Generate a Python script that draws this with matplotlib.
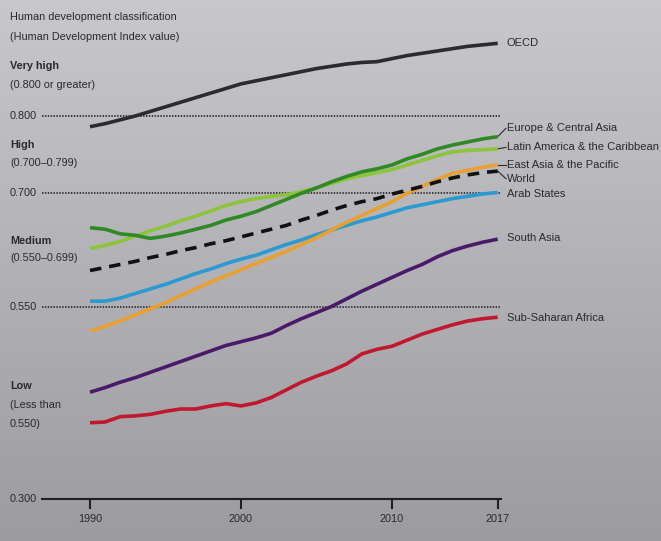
import numpy as np
import matplotlib.pyplot as plt
import matplotlib.transforms as mtransforms
from matplotlib import font_manager
from matplotlib.colors import LinearSegmentedColormap

years = np.arange(1990, 2018)

oecd = [0.786, 0.790, 0.795, 0.800, 0.806, 0.812, 0.818, 0.824, 0.830, 0.836,
        0.842, 0.846, 0.850, 0.854, 0.858, 0.862, 0.865, 0.868, 0.870, 0.871,
        0.875, 0.879, 0.882, 0.885, 0.888, 0.891, 0.893, 0.895]
eca = [0.654, 0.652, 0.646, 0.644, 0.640, 0.643, 0.647, 0.652, 0.657, 0.664,
       0.669, 0.675, 0.683, 0.691, 0.699, 0.706, 0.714, 0.721, 0.727, 0.731,
       0.736, 0.744, 0.750, 0.757, 0.762, 0.766, 0.770, 0.773]
lac = [0.627, 0.631, 0.636, 0.643, 0.650, 0.656, 0.663, 0.669, 0.676, 0.683,
       0.688, 0.692, 0.695, 0.697, 0.701, 0.706, 0.712, 0.718, 0.722, 0.726,
       0.730, 0.736, 0.742, 0.748, 0.753, 0.755, 0.756, 0.757]
eap = [0.519, 0.525, 0.532, 0.540, 0.548, 0.556, 0.565, 0.574, 0.583, 0.591,
       0.599, 0.607, 0.615, 0.623, 0.632, 0.641, 0.651, 0.661, 0.670, 0.679,
       0.688, 0.699, 0.708, 0.717, 0.725, 0.729, 0.733, 0.736]
world = [0.598, 0.602, 0.606, 0.610, 0.615, 0.619, 0.624, 0.628, 0.633, 0.637,
         0.642, 0.647, 0.652, 0.657, 0.664, 0.670, 0.677, 0.683, 0.688, 0.692,
         0.698, 0.703, 0.708, 0.714, 0.719, 0.723, 0.726, 0.728]
arab = [0.558, 0.558, 0.562, 0.568, 0.574, 0.580, 0.587, 0.594, 0.600, 0.607,
        0.613, 0.618, 0.625, 0.632, 0.638, 0.645, 0.651, 0.657, 0.663, 0.668,
        0.674, 0.680, 0.684, 0.688, 0.692, 0.695, 0.698, 0.700]
sasia = [0.439, 0.445, 0.452, 0.458, 0.465, 0.472, 0.479, 0.486, 0.493, 0.500,
         0.505, 0.510, 0.516, 0.526, 0.535, 0.543, 0.551, 0.561, 0.571, 0.580,
         0.589, 0.598, 0.606, 0.616, 0.624, 0.630, 0.635, 0.639]
ssa = [0.399, 0.400, 0.407, 0.408, 0.410, 0.414, 0.417, 0.417, 0.421, 0.424,
       0.421, 0.425, 0.432, 0.442, 0.452, 0.460, 0.467, 0.476, 0.489, 0.495,
       0.499, 0.507, 0.515, 0.521, 0.527, 0.532, 0.535, 0.537]

names = ["OECD", "Europe & Central Asia", "Latin America & the Caribbean",
         "East Asia & the Pacific", "World", "Arab States", "South Asia",
         "Sub-Saharan Africa"]
label_y = [0.895, 0.784, 0.759, 0.736, 0.718, 0.698, 0.641, 0.536]

thresholds = [0.800, 0.700, 0.550]
year_ticks = [1990, 2000, 2010, 2017]

# narrow font if there is one
avail = {f.name for f in font_manager.fontManager.ttflist}
if "Liberation Sans Narrow" in avail:
    plt.rcParams['font.family'] = ["Liberation Sans Narrow", "DejaVu Sans"]
    fs_lab, fs_left = 9, 8.5
else:
    plt.rcParams['font.family'] = ["Liberation Sans", "DejaVu Sans"]
    fs_lab, fs_left = 8, 7.8
txt_col = "#2a2a2a"

fig = plt.figure(figsize=(6.61, 5.41), dpi=100)

# gray gradient background
bg = fig.add_axes([0, 0, 1, 1])
grad = np.linspace(0, 1, 256).reshape(-1, 1)
cm = LinearSegmentedColormap.from_list("g", ["#c8c8cc", "#9c9ca0"])
bg.imshow(grad, aspect="auto", cmap=cm, extent=[0, 1, 0, 1], origin="upper")
bg.axis("off")

ax = fig.add_axes([0, 0, 1, 1])
ax.patch.set_alpha(0)
ax.axis("off")
px_yr = 15.1
x0 = 1990 - 90 / px_yr
ax.set_xlim(x0, x0 + 661 / px_yr)
px_v = 765.0
ax.set_ylim(0.8 - 425 / px_v, 0.8 + 116 / px_v)

line_left = x0 + 42 / px_yr
line_right = 2017.2
for t in thresholds:
    ax.plot([line_left, line_right], [t, t], color="#303030", lw=1.3,
            linestyle=(0, (0.8, 0.8)), zorder=1)
ax.plot([line_left, line_right], [0.3, 0.3], color="#202020", lw=1.5, zorder=1)
for yr in year_ticks:
    ax.plot([yr, yr], [0.3, 0.3 - 9 / px_v], color="#202020", lw=1.5)
    ax.text(yr, 0.3 - 15 / px_v, str(yr), ha="center", va="top",
            fontsize=fs_left, color=txt_col)

series = [oecd, eca, lac, eap, world, arab, sasia, ssa]
colors = ["#2c2c2e", "#2f8a26", "#8cc43a", "#e8a030", "#111111",
          "#2a9ad0", "#4a1a6a", "#c0182e"]
order = [7, 6, 5, 3, 2, 1, 0, 4]
for i in order:
    ls = (0, (3.2, 2.2)) if names[i] == "World" else "-"
    ax.plot(years, series[i], color=colors[i], lw=2.6, linestyle=ls,
            solid_capstyle="butt", zorder=3 + (1 if names[i] == "World" else 0))

lab_x = 2017.6
for i, n in enumerate(names):
    if n in ("Europe & Central Asia", "Latin America & the Caribbean",
             "East Asia & the Pacific", "World"):
        ax.plot([years[-1], lab_x - 0.05], [series[i][-1], label_y[i]],
                color="#2a2a2a", lw=0.8)
    ax.text(lab_x, label_y[i], n, ha="left", va="center", fontsize=fs_lab,
            color=txt_col)

# left annotations
trans = mtransforms.blended_transform_factory(fig.transFigure, ax.transData)
lx = 10 / 661
for t in thresholds + [0.3]:
    ax.text(lx, t, f"{t:.3f}", transform=trans, ha="left", va="center",
            fontsize=fs_left, color=txt_col)

def ftext(py, s, bold=False):
    fig.text(lx, 1 - py / 541, s, ha="left", va="center", fontsize=fs_left,
             color=txt_col, fontweight="bold" if bold else "normal")

ftext(17, "Human development classification")
ftext(37, "(Human Development Index value)")
ftext(66, "Very high", True)
ftext(85, "(0.800 or greater)")
ftext(145, "High", True)
ftext(163, "(0.700\u20130.799)")
ftext(241, "Medium", True)
ftext(258, "(0.550\u20130.699)")
ftext(386, "Low", True)
ftext(405, "(Less than")
ftext(424, "0.550)")

fig.savefig("out.png", dpi=100)
